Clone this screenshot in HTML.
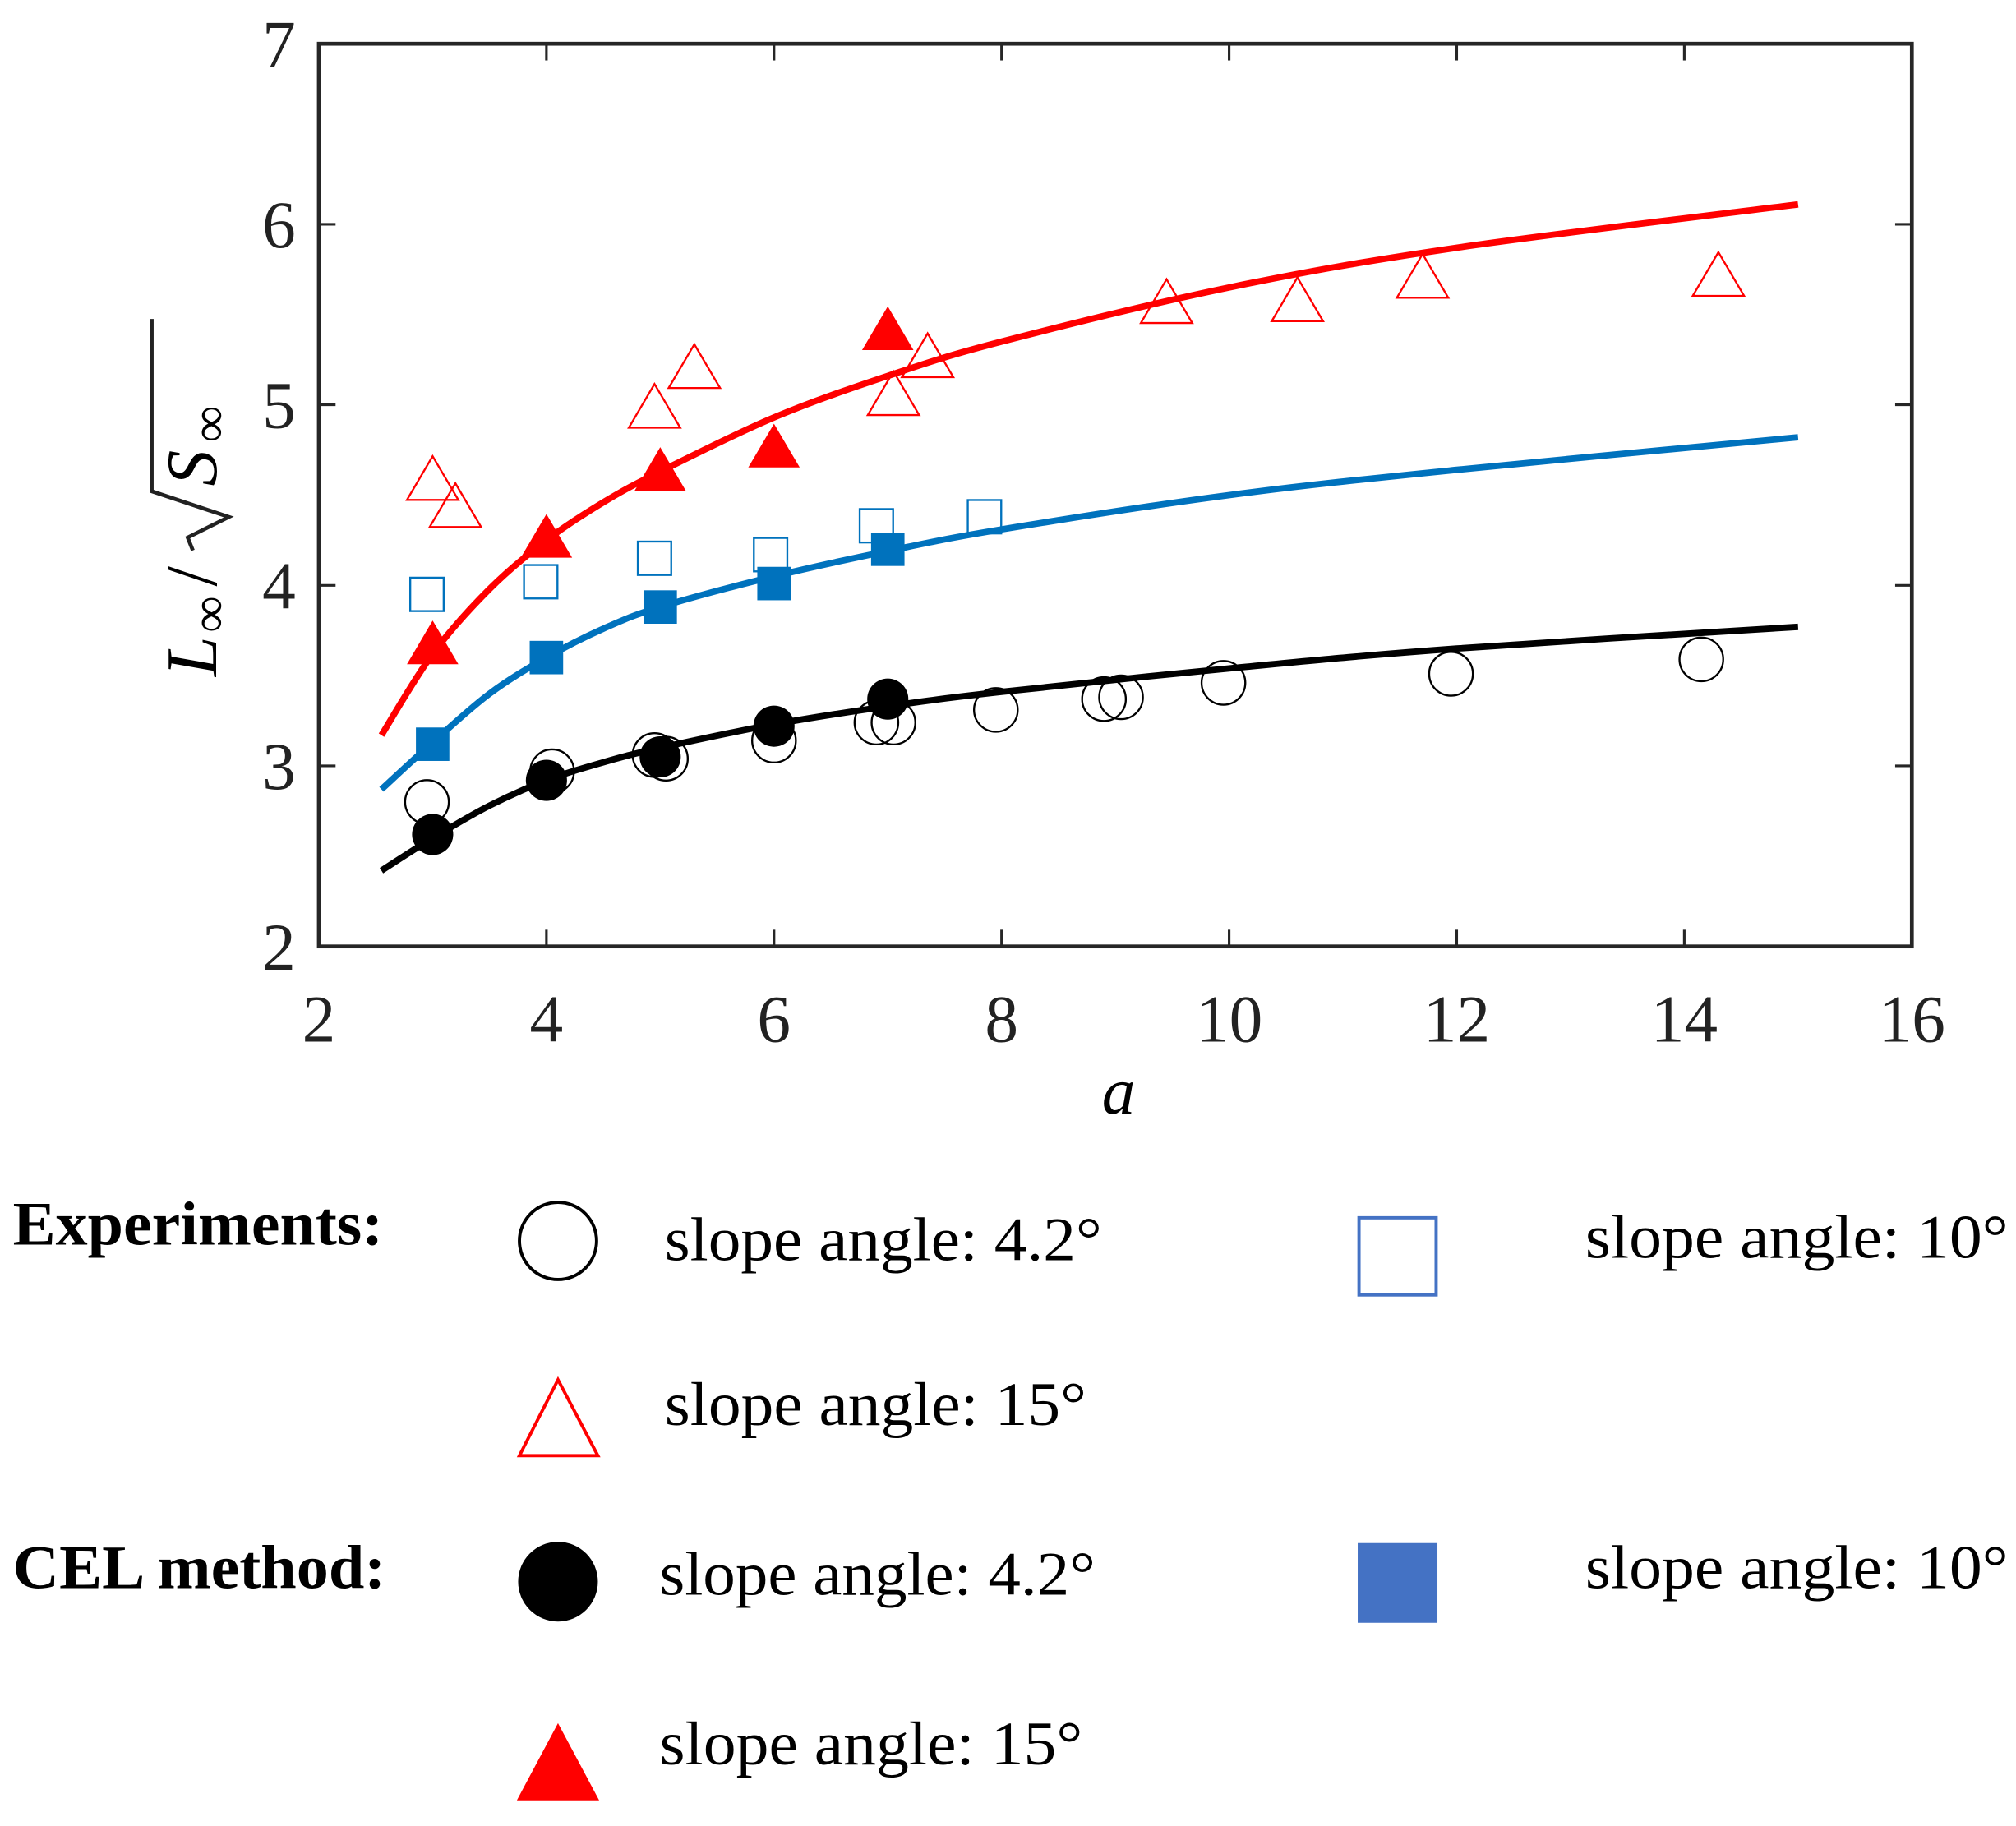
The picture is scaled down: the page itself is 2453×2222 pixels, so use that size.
<!DOCTYPE html>
<html><head><meta charset="utf-8"><style>
html,body{margin:0;padding:0;background:#fff;}
svg{display:block;}
text{font-family:"Liberation Serif",serif;}
</style></head>
<body>
<svg id="chart" width="2453" height="2222" viewBox="0 0 1568 1420" preserveAspectRatio="none" xmlns="http://www.w3.org/2000/svg">
<rect x="0" y="0" width="1568" height="1420" fill="#fff"/>
<g id="plot"></g>
<rect x="248" y="34" width="1239" height="702" fill="none" stroke="#262626" stroke-width="3"/>
<g id="axes"></g>
<text x="870" y="866" font-size="52" font-style="italic" text-anchor="middle">a</text>
<g transform="translate(168,388) rotate(-90)">
  <text x="-138" y="0" font-size="56" font-style="italic">L</text>
  <text x="-104" y="8" font-size="40">∞</text>
  <text x="-68" y="0" font-size="56">/</text>
  <path d="M-40,-18 L-30,-22 L-14,10 L6,-50 L140,-50" fill="none" stroke="#222" stroke-width="3"/>
  <text x="10" y="0" font-size="56" font-style="italic">S</text>
  <text x="44" y="8" font-size="40">∞</text>
</g>
<g>
  <text x="10" y="968" font-size="48" font-weight="bold" textLength="288" lengthAdjust="spacingAndGlyphs">Experiments:</text>
  <circle cx="434" cy="965" r="30" fill="none" stroke="#000" stroke-width="2.5"/>
  <text x="517" y="980" font-size="48" textLength="340" lengthAdjust="spacingAndGlyphs">slope angle: 4.2°</text>
  <rect x="1057" y="947" width="60" height="60" fill="none" stroke="#4472c4" stroke-width="2.5"/>
  <text x="1233" y="978" font-size="48" textLength="329" lengthAdjust="spacingAndGlyphs">slope angle: 10°</text>
  <polygon points="434,1073 404,1132 465,1132" fill="none" stroke="#ff0000" stroke-width="2.5"/>
  <text x="517" y="1108" font-size="48" textLength="328" lengthAdjust="spacingAndGlyphs">slope angle: 15°</text>
  <text x="10" y="1235" font-size="48" font-weight="bold" textLength="290" lengthAdjust="spacingAndGlyphs">CEL method:</text>
  <circle cx="434" cy="1230" r="31" fill="#000"/>
  <text x="513" y="1240" font-size="48" textLength="339" lengthAdjust="spacingAndGlyphs">slope angle: 4.2°</text>
  <rect x="1056" y="1200" width="62" height="62" fill="#4472c4"/>
  <text x="1233" y="1235" font-size="48" textLength="329" lengthAdjust="spacingAndGlyphs">slope angle: 10°</text>
  <polygon points="434,1340 402,1400 466,1400" fill="#ff0000"/>
  <text x="513" y="1372" font-size="48" textLength="329" lengthAdjust="spacingAndGlyphs">slope angle: 15°</text>
</g>
</svg>
<script>
const xTicks = [2,4,6,8,10,12,14,16];
const yTicks = [2,3,4,5,6,7];
const curveX = [2.55,3,3.5,4,4.5,5,6,7,8,10,12,15];
const curveBlack = [2.42,2.60,2.78,2.92,3.02,3.10,3.23,3.33,3.41,3.54,3.65,3.77];
const curveBlue = [2.87,3.13,3.40,3.60,3.76,3.88,4.05,4.19,4.31,4.50,4.64,4.82];
const curveRed = [3.17,3.62,3.98,4.25,4.46,4.63,4.93,5.16,5.35,5.65,5.87,6.11];
const celX = [3,4,5,6,7];
const celBlack = [2.62,2.92,3.05,3.22,3.37];
const celBlue = [3.12,3.60,3.88,4.01,4.20];
const celRed = [3.66,4.25,4.62,4.75,5.40];
const expCircleX = [2.95,4.05,4.95,5.05,6,6.9,7.05,7.95,8.9,9.05,9.95,11.95,14.15];
const expCircleY = [2.80,2.97,3.06,3.04,3.14,3.24,3.24,3.31,3.37,3.38,3.46,3.51,3.59];
const expSquareX = [2.95,3.95,4.95,5.97,6.9,7.85];
const expSquareY = [3.95,4.02,4.15,4.17,4.33,4.38];
const expTriX = [3,3.2,4.95,5.3,7.05,7.35,9.45,10.6,11.7,14.3];
const expTriY = [4.57,4.42,4.97,5.19,5.04,5.25,5.55,5.56,5.69,5.70];

const NS = "http://www.w3.org/2000/svg";
const X = v => 248 + (v - 2) * (1239 / 14);
const Y = v => 736 - (v - 2) * (702 / 5);
const plot = document.getElementById('plot');
const axes = document.getElementById('axes');
function mk(tag, attrs, parent) {
  const e = document.createElementNS(NS, tag);
  for (const k in attrs) e.setAttribute(k, attrs[k]);
  parent.appendChild(e);
  return e;
}
xTicks.forEach(t => {
  const l1 = mk('line', {x1: X(t), x2: X(t), y1: 736, y2: 723, stroke: '#262626', 'stroke-width': 2}, axes);
  
  
  const l2 = mk('line', {x1: X(t), x2: X(t), y1: 34, y2: 47, stroke: '#262626', 'stroke-width': 2}, axes);
  
  
  const tx = mk('text', {x: X(t), y: 810, 'font-size': 52, 'text-anchor': 'middle', fill: '#222'}, axes);
  tx.textContent = t;
  
  
});
yTicks.forEach(t => {
  const l1 = mk('line', {x1: 248, x2: 261, y1: Y(t), y2: Y(t), stroke: '#262626', 'stroke-width': 2}, axes);
  
  
  const l2 = mk('line', {x1: 1474, x2: 1487, y1: Y(t), y2: Y(t), stroke: '#262626', 'stroke-width': 2}, axes);
  
  
  const tx = mk('text', {x: 230, y: Y(t) + 18, 'font-size': 52, 'text-anchor': 'end', fill: '#222'}, axes);
  tx.textContent = t;
  
  
});
function curve(ys, color, name) {
  const pts = curveX.map((x, i) => [X(x), Y(ys[i])]);
  let d = 'M' + pts[0][0] + ',' + pts[0][1];
  for (let i = 0; i < pts.length - 1; i++) {
    const p0 = pts[Math.max(0, i - 1)], p1 = pts[i], p2 = pts[i + 1], p3 = pts[Math.min(pts.length - 1, i + 2)];
    const c1x = p1[0] + (p2[0] - p0[0]) / 6, c1y = p1[1] + (p2[1] - p0[1]) / 6;
    const c2x = p2[0] - (p3[0] - p1[0]) / 6, c2y = p2[1] - (p3[1] - p1[1]) / 6;
    d += ' C' + c1x + ',' + c1y + ' ' + c2x + ',' + c2y + ' ' + p2[0] + ',' + p2[1];
  }
  const p = mk('path', {d: d, fill: 'none', stroke: color, 'stroke-width': 5}, plot);
  
  
}
curve(curveBlack, '#000', 'fit-curve-4-2');
curve(curveBlue, '#0072bd', 'fit-curve-10');
curve(curveRed, '#ff0000', 'fit-curve-15');
function tri(cx, cy, w, h) {
  return (cx) + ',' + (cy - h * 0.6) + ' ' + (cx - w / 2) + ',' + (cy + h * 0.4) + ' ' + (cx + w / 2) + ',' + (cy + h * 0.4);
}
expCircleX.forEach((x, i) => {
  const c = mk('circle', {cx: X(x), cy: Y(expCircleY[i]), r: 17, fill: 'none', stroke: '#000', 'stroke-width': 1.5}, plot);
  
  
});
expSquareX.forEach((x, i) => {
  const r = mk('rect', {x: X(x) - 13, y: Y(expSquareY[i]) - 13, width: 26, height: 26, fill: 'none', stroke: '#0072bd', 'stroke-width': 1.5}, plot);
  
  
});
expTriX.forEach((x, i) => {
  const t = mk('polygon', {points: tri(X(x), Y(expTriY[i]), 40, 34), fill: 'none', stroke: '#ff0000', 'stroke-width': 1.5}, plot);
  
  
});
celX.forEach((x, i) => {
  const c = mk('circle', {cx: X(x), cy: Y(celBlack[i]), r: 16, fill: '#000'}, plot);
  
  
  const r = mk('rect', {x: X(x) - 13, y: Y(celBlue[i]) - 13, width: 26, height: 26, fill: '#0072bd'}, plot);
  
  
  const t = mk('polygon', {points: tri(X(x), Y(celRed[i]), 40, 34), fill: '#ff0000'}, plot);
  
  
});
</script>
</body></html>
